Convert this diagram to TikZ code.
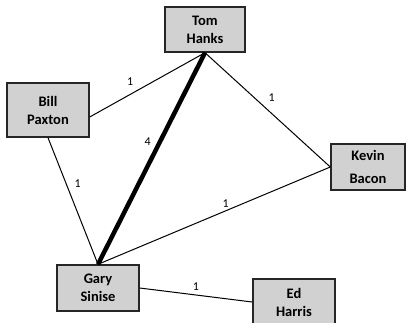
\documentclass[tikz,border=0pt]{standalone}
\usepackage{fontspec}
\setmainfont{Carlito}
\begin{document}
\begin{tikzpicture}[x=1pt,y=-1pt,
  person/.style={draw=black!85, line width=1.4pt, fill=black!18, align=center,
    font=\fontsize{14.5}{18}\selectfont\bfseries, inner sep=0pt},
  link/.style={line width=1pt, black},
  heavy/.style={line width=4.5pt, black},
  weight/.style={font=\fontsize{12}{14}\selectfont, inner sep=1pt}]
\useasboundingbox (0,0) rectangle (407,322);
\clip (0,0) rectangle (407,322);
\node[person, minimum width=80, minimum height=45] (tom) at (205,29.5) {Tom\\Hanks};
\node[person, minimum width=82, minimum height=54] (bill) at (48,110) {Bill\\Paxton};
\node[person, minimum width=74, minimum height=46, font=\fontsize{14.5}{23}\selectfont\bfseries] (kevin) at (368,167) {Kevin\\Bacon};
\node[person, minimum width=82, minimum height=46] (gary) at (98,288) {Gary\\Sinise};
\node[person, minimum width=82, minimum height=46] (ed) at (294,302) {Ed\\Harris};
\draw[link] ([yshift=-7]bill.east) -- (tom.south) node[weight, pos=0.35, above=7pt] (w1) {1};
\draw[link] (tom.south) -- (kevin.west) node[weight, pos=0.5, xshift=4pt, yshift=12pt] (w2) {1};
\draw[heavy] (tom.south) -- (gary.north) node[weight, pos=0.42, left=6pt] (w3) {4};
\draw[link] (bill.south) -- (gary.north) node[weight, pos=0.36, right=7pt] (w4) {1};
\draw[link] (kevin.west) -- (gary.north) node[weight, pos=0.45, above=2pt] (w5) {1};
\draw[link] (gary.east) -- (ed.west) node[weight, pos=0.5, above=3pt] (w6) {1};
\end{tikzpicture}
\end{document}
